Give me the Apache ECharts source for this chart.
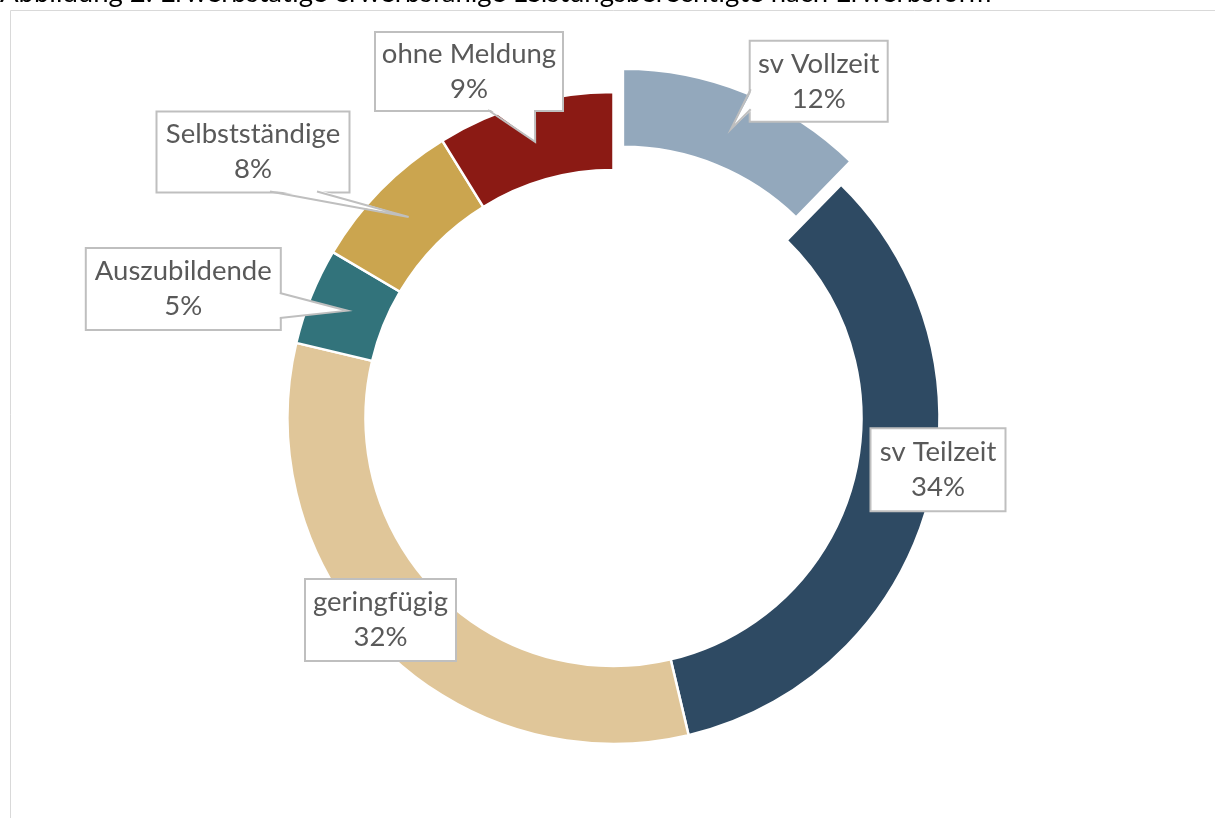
<!DOCTYPE html>
<html>
<head>
<meta charset="utf-8">
<script src="https://cdn.jsdelivr.net/npm/echarts@6/dist/echarts.min.js"></script>
<style>
  html, body { margin: 0; padding: 0; background: #ffffff; }
  #chart { width: 1215px; height: 818px; }
</style>
</head>
<body>
<div id="chart"></div>
<script>
// ---- data ----
var titleText = 'Abbildung 2: Erwerbstätige erwerbsfähige Leistungsberechtigte nach Erwerbsform';
var categories = ['sv Vollzeit', 'sv Teilzeit', 'geringfügig', 'Auszubildende', 'Selbstständige', 'ohne Meldung'];
var shares = [12.3, 34.0, 32.4, 4.8, 7.7, 8.8];
var explodedIndex = 0;

// ---- styles / layout (not data) ----
var colors = ['#93A8BC', '#2E4A63', '#E0C699', '#32737B', '#CBA54F', '#8B1A14'];
var PIE_CENTER = [613.5, 418];
var PIE_RADIUS = [248, 326];
var EXPLODE = 25;
// label box centre/size; pointer base (two points on the box edge, relative to box centre)
var labelBoxes = [
  { cx: 818.7, cy: 81.3, w: 136, h: 79, base: [[-68, 8], [-68, 28]] },
  { cx: 938.0, cy: 469.7, w: 133, h: 81, base: null },
  { cx: 380.5, cy: 620.0, w: 149, h: 80, base: null },
  { cx: 183.3, cy: 289.0, w: 193, h: 80, base: [[96.5, 4], [96.5, 29]] },
  { cx: 253.0, cy: 152.0, w: 191, h: 79, base: [[17, 39.5], [64, 39.5]] },
  { cx: 469.0, cy: 71.5, w: 186, h: 77, base: [[19, 38.5], [66, 38.5]] }
];
var FONT = 'Lato, "Open Sans", sans-serif';
var NONE = 'rgba(0,0,0,0)';

// fit title width to reference (~992px)
var cnv = document.createElement('canvas').getContext('2d');
var titleSize = 24;
cnv.font = titleSize + 'px Lato';
var tw = cnv.measureText(titleText).width;
if (tw > 0) titleSize = Math.round(titleSize * 992 / tw * 10) / 10;

var chart = echarts.init(document.getElementById('chart'), null, { renderer: 'canvas' });

// main ring: all slices except the exploded one, plus all labels
var mainItems = categories.map(function (name, i) {
  var b = labelBoxes[i];
  return {
    name: name,
    value: shares[i],
    itemStyle: i === explodedIndex ? { color: NONE, borderWidth: 0 } : { color: colors[i] },
    label: { width: b.w, padding: [(b.h - 70) / 2, 0] }
  };
});
// exploded ring: only the exploded slice is visible
var explodedItems = categories.map(function (name, i) {
  return {
    name: name,
    value: shares[i],
    itemStyle: i === explodedIndex ? { color: colors[i] } : { color: NONE, borderWidth: 0 }
  };
});

var baseGraphics = [
  {
    type: 'rect',
    shape: { x: 10.5, y: 10.5, width: 1300, height: 900 },
    style: { fill: 'none', stroke: '#d9d9d9', lineWidth: 1 },
    silent: true
  },
  {
    type: 'text',
    x: 0, y: -21,
    style: { text: titleText, font: titleSize + 'px Lato', fill: '#000000' },
    silent: true
  }
];

function pieSeries(center, items, withLabels) {
  return {
    type: 'pie',
    center: center,
    radius: PIE_RADIUS,
    startAngle: 90,
    clockwise: true,
    percentPrecision: 0,
    avoidLabelOverlap: false,
    silent: true,
    itemStyle: { borderColor: '#ffffff', borderWidth: 2.5 },
    emphasis: { disabled: true },
    label: withLabels ? {
      show: true,
      position: 'outside',
      formatter: '{b}\n{d}%',
      fontFamily: FONT,
      fontSize: 27.5,
      lineHeight: 35,
      color: '#595959',
      align: 'center',
      backgroundColor: '#ffffff',
      borderColor: '#bfbfbf',
      borderWidth: 2
    } : { show: false },
    labelLine: { show: false },
    labelLayout: withLabels ? function (params) {
      var b = labelBoxes[params.dataIndex];
      return { x: b.cx, y: b.cy, align: 'center', verticalAlign: 'middle' };
    } : null,
    z: withLabels ? 3 : 2,
    data: items
  };
}

chart.setOption({
  animation: false,
  graphic: baseGraphics,
  series: [pieSeries(PIE_CENTER, mainItems, true)]
});

// explosion offset along the slice's mid angle, from the library's pie layout
var pieData = chart.getModel().getSeriesByIndex(0).getData();
var LE = pieData.getItemLayout(explodedIndex);
var midE = (LE.startAngle + LE.endAngle) / 2;
var exOff = [Math.cos(midE) * EXPLODE, Math.sin(midE) * EXPLODE];

// callout pointers: tip at the middle of each slice
var pointers = [];
labelBoxes.forEach(function (b, i) {
  if (!b.base) return;
  var L = pieData.getItemLayout(i);
  var mid = (L.startAngle + L.endAngle) / 2;
  var rm = (L.r + L.r0) / 2;
  var ox = i === explodedIndex ? exOff[0] : 0;
  var oy = i === explodedIndex ? exOff[1] : 0;
  var tip = [L.cx + ox + Math.cos(mid) * rm, L.cy + oy + Math.sin(mid) * rm];
  var p1 = [b.cx + b.base[0][0], b.cy + b.base[0][1]];
  var p2 = [b.cx + b.base[1][0], b.cy + b.base[1][1]];
  var inx = 0, iny = 0;
  if (p1[0] === p2[0]) inx = (p1[0] < b.cx) ? 2 : -2; else iny = (p1[1] < b.cy) ? 2 : -2;
  pointers.push({
    type: 'polygon', z: 100, silent: true,
    shape: { points: [[p1[0] + inx, p1[1] + iny], tip, [p2[0] + inx, p2[1] + iny]] },
    style: { fill: '#ffffff', stroke: null }
  });
  pointers.push({
    type: 'polyline', z: 101, silent: true,
    shape: { points: [p1, tip, p2] },
    style: { fill: null, stroke: '#bfbfbf', lineWidth: 2, lineJoin: 'miter' }
  });
});

chart.setOption({
  graphic: baseGraphics.concat(pointers),
  series: [
    pieSeries(PIE_CENTER, mainItems, true),
    pieSeries([PIE_CENTER[0] + exOff[0], PIE_CENTER[1] + exOff[1]], explodedItems, false)
  ]
}, { replaceMerge: ['graphic', 'series'] });
</script>
</body>
</html>
